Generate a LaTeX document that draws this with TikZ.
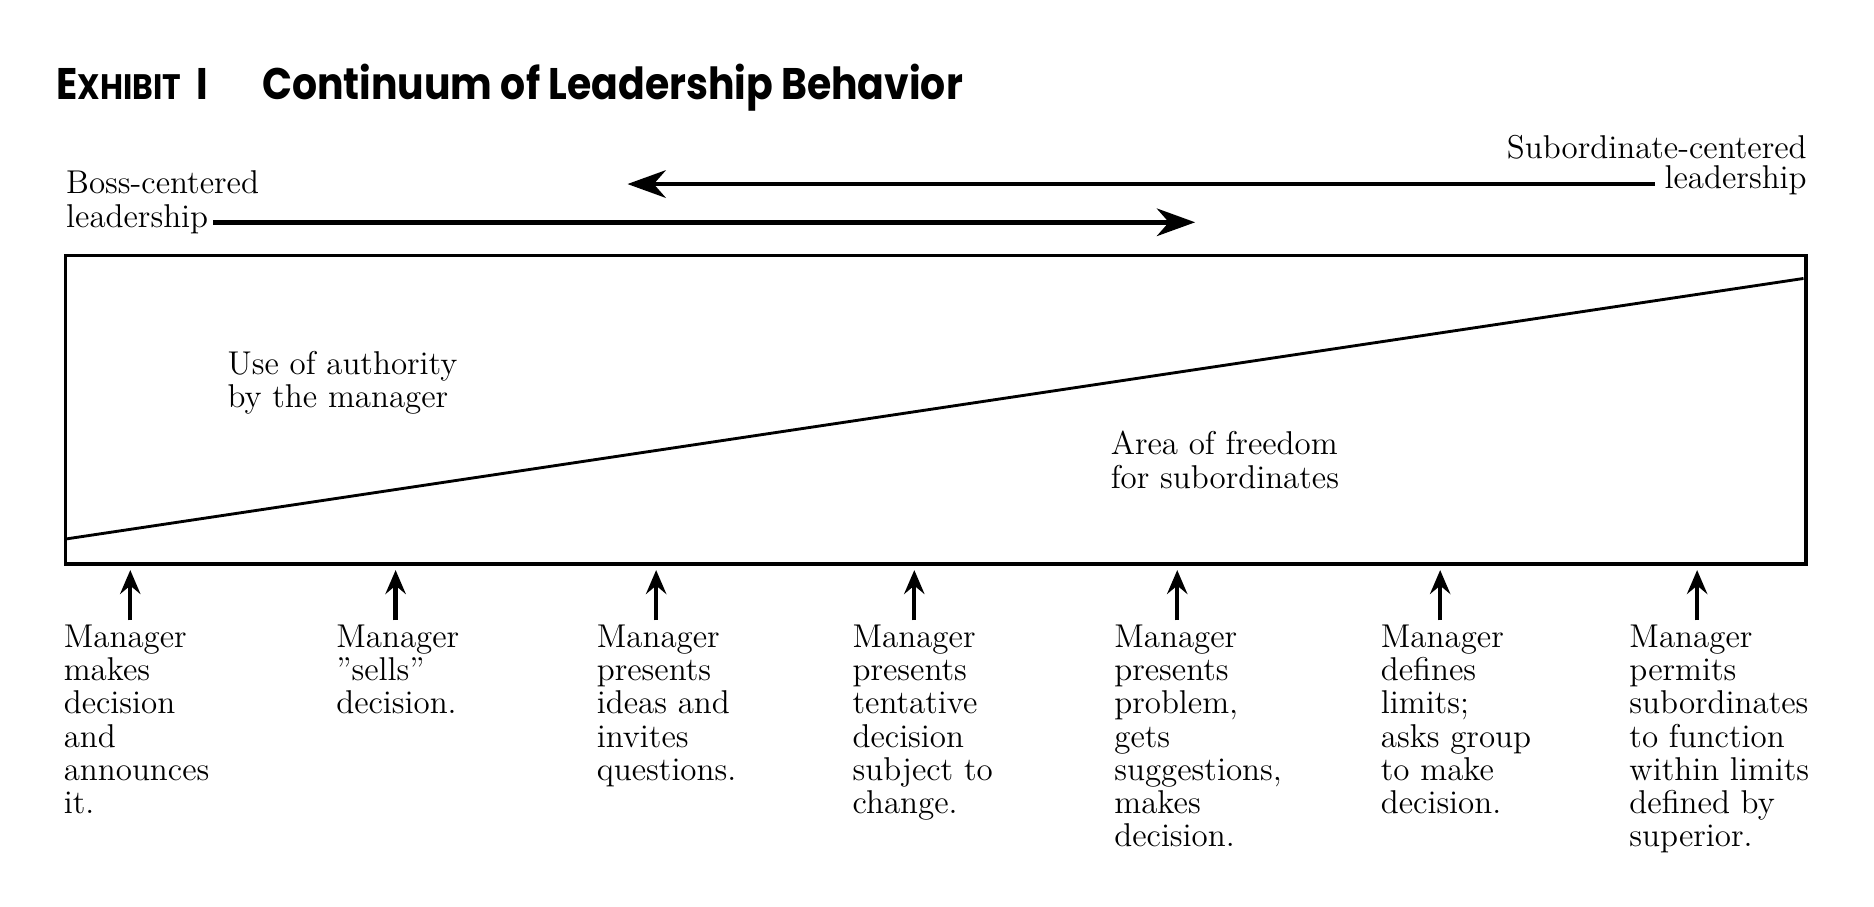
\documentclass[tikz,border=0pt]{standalone}
\usepackage{fontspec}
\newfontfamily\titlefont{Poppins}[FakeStretch=0.89]
\usetikzlibrary{calc,arrows.meta,positioning}
\tikzset{
  txt/.style={inner sep=0pt,align=left,font=\fontsize{13.8}{13.9}\selectfont},
  head/.style={inner sep=0pt,anchor=base west,font=\titlefont\bfseries\fontsize{18.5}{20}\selectfont},
  bigarrow/.style={line width=2pt,-{Stealth[length=16pt,width=11.5pt,inset=5pt]}},
  uparrow/.style={line width=1.8pt,-{Stealth[length=10pt,width=8.5pt,inset=3.5pt]},shorten >=2.5pt},
}
\begin{document}
\begin{tikzpicture}[x=0.5pt,y=-0.5pt]
  \useasboundingbox (0,0) rectangle (1568,758.1);
  % title
  \node[head](ex)at(47,83){E{\fontsize{14.8}{16}\selectfont XHIBIT}\hspace{0.35em}I};
  \node[head](title)at(219,83){Continuum of Leadership Behavior};
  % box and diagonal
  \coordinate(A)at(55,472);
  \coordinate(B)at(1511,472);
  \coordinate(C)at(1511,214);
  \coordinate(D)at(55,214);
  \coordinate(E)at(55,451);
  \coordinate(F)at(1509,233);
  \draw[line width=1.4pt](A)--(B)--(C)--(D)--cycle;
  \draw[line width=1.2pt](E)--(F);
  \node[txt,anchor=north west](use)at(190,293.5){Use of authority\\by the manager};
  \node[txt,anchor=north west](area)at(929,360.5){Area of freedom\\for subordinates};
  % top labels and arrows
  \node[txt,anchor=base west](boss1)at(55,162){Boss-centered};
  \node[txt,anchor=base west](boss2)at(55,190){leadership};
  \node[txt,anchor=base east](sub1)at(1512,133){Subordinate-centered};
  \node[txt,anchor=base east](sub2)at(1512,158){leadership};
  \coordinate(bossr)at(1000,186);
  \coordinate(subl)at(525,154);
  \draw[bigarrow]([xshift=2pt]boss2.east |- bossr)--(bossr);
  \draw[bigarrow]([xshift=-4pt]sub2.west |- subl)--(subl);
  % manager behaviours
  \foreach \x/\ax/\lines [count=\i] in {
      53/109/{Manager\\makes\\decision\\and\\announces\\it.},
      281/331/{Manager\\''sells''\\decision.},
      499/549/{Manager\\presents\\ideas and\\invites\\questions.},
      713/765/{Manager\\presents\\tentative\\decision\\subject to\\change.},
      932/985/{Manager\\presents\\problem,\\gets\\suggestions,\\makes\\decision.},
      1155/1205/{Manager\\defines\\limits;\\asks group\\to make\\decision.},
      1363/1420/{Manager\\permits\\subordinates\\to function\\within limits\\defined by\\superior.}}{
    \node[txt,anchor=north west](m\i)at(\x,522.5){\lines};
    \coordinate(t\i)at(\ax,519);
    \draw[uparrow](t\i)--(t\i |- A);
  }
\end{tikzpicture}
\end{document}
